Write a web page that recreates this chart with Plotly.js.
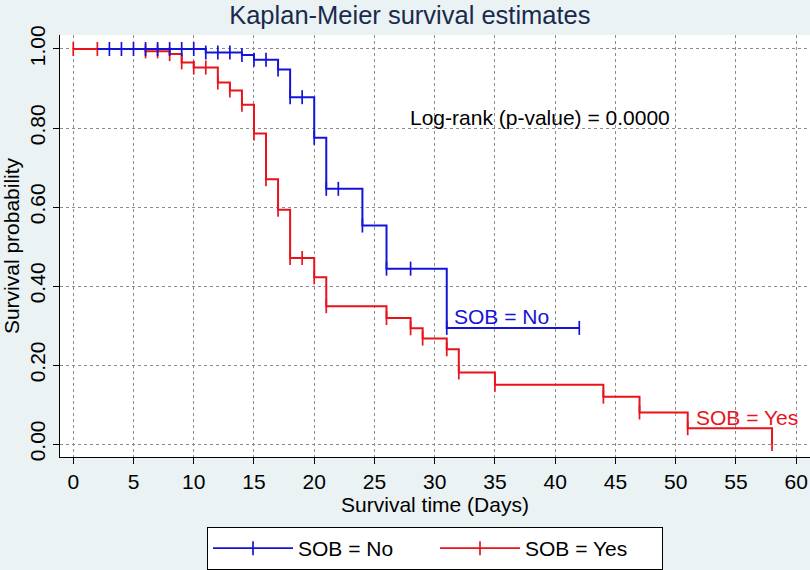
<!DOCTYPE html>
<html>
<head>
<meta charset="utf-8">
<script src="https://cdn.plot.ly/plotly-3.0.1.min.js"></script>
<style>
  html, body { margin: 0; padding: 0; background: #eaf2f3; }
  #km { width: 810px; height: 570px; }
</style>
</head>
<body>
<div id="km"></div>
<script>
// SOB = Yes (red) step points and censoring marks
let redTime = [0, 6, 8, 9, 10, 12, 13, 14, 15, 16, 17, 18, 20, 21, 26, 28, 29, 31, 32, 35, 44, 47, 51, 58];
let redSurv = [1.0, 0.994, 0.987, 0.966, 0.953, 0.915, 0.895, 0.859, 0.786, 0.670, 0.593, 0.471, 0.422, 0.349,
               0.319, 0.293, 0.267, 0.240, 0.181, 0.150, 0.120, 0.080, 0.040, 0.0];
let redCens = [0, 2, 6, 7, 8, 9, 10, 11, 12, 13, 14, 15, 16, 17, 18, 19, 20, 21, 26, 28, 29, 31, 32, 35, 44, 47, 51, 58];

// SOB = No (blue)
let blueTime = [2, 11, 14, 15, 17, 18, 20, 21, 24, 26, 31, 42];
let blueSurv = [1.0, 0.991, 0.985, 0.973, 0.948, 0.878, 0.775, 0.646, 0.553, 0.444, 0.294, 0.294];
let blueCens = [3, 4, 5, 6, 7, 8, 9, 10, 11, 12, 13, 14, 15, 16, 17, 18, 19, 20, 21, 22, 24, 26, 28, 31, 42];

let xTicks = [0, 5, 10, 15, 20, 25, 30, 35, 40, 45, 50, 55, 60];
let yTicks = [0, 0.2, 0.4, 0.6, 0.8, 1.0];

const blue = '#1414d8';
const red = '#e8141c';

// value of the step function at time t
const stepAt = (times, surv, t) => {
    let s = surv[0];
    for (let i = 0; i < times.length; i++) {
        if (times[i] <= t) s = surv[i];
    }
    return s;
};

const lineTrace = (times, surv, color) => ({
    x: times,
    y: surv,
    mode: 'lines',
    type: 'scatter',
    line: {color: color, width: 2, shape: 'hv'},
    showlegend: false,
    hoverinfo: 'skip'
});

const tickTrace = (times, surv, cens, color) => ({
    x: cens,
    y: cens.map((t) => stepAt(times, surv, t)),
    mode: 'markers',
    type: 'scatter',
    marker: {symbol: 'line-ns', size: 10, line: {color: color, width: 1.7}},
    showlegend: false,
    hoverinfo: 'skip'
});

const legendTrace = (name, color) => ({
    x: [null],
    y: [null],
    name: name,
    mode: 'lines+markers',
    type: 'scatter',
    line: {color: color, width: 1.7},
    marker: {symbol: 'line-ns', size: 10, line: {color: color, width: 1.7}}
});

let data = [
    lineTrace(redTime, redSurv, red),
    tickTrace(redTime, redSurv, redCens, red),
    lineTrace(blueTime, blueSurv, blue),
    tickTrace(blueTime, blueSurv, blueCens, blue),
    legendTrace('SOB = No', blue),
    legendTrace('SOB = Yes', red)
];

let layout = {
    width: 810,
    height: 570,
    paper_bgcolor: '#eaf2f3',
    plot_bgcolor: '#ffffff',
    margin: {l: 60, r: 0, t: 35, b: 112},
    font: {family: 'Liberation Sans, Arial, sans-serif', color: '#000000', size: 21},
    title: {
        text: 'Kaplan-Meier survival estimates',
        font: {size: 25.5, color: '#1a2a4e'},
        x: 0.506,
        xanchor: 'center',
        y: 0.973,
        yanchor: 'middle'
    },
    xaxis: {
        range: [-1.1, 61.15],
        tickvals: xTicks,
        ticktext: xTicks.map(String),
        ticks: 'outside',
        ticklen: 6,
        tickwidth: 1,
        tickcolor: '#000',
        showline: true,
        linecolor: '#000',
        linewidth: 1,
        showgrid: true,
        gridcolor: '#8c8c8c',
        griddash: 'dot',
        gridwidth: 1,
        zeroline: false,
        tickfont: {size: 21},
        title: {text: 'Survival time (Days)', font: {size: 21}, standoff: 0}
    },
    yaxis: {
        range: [-0.0328, 1.0354],
        tickvals: yTicks,
        ticktext: yTicks.map((v) => v.toFixed(2)),
        tickangle: -90,
        ticks: 'outside',
        ticklen: 6,
        tickwidth: 1,
        tickcolor: '#000',
        showline: true,
        linecolor: '#000',
        linewidth: 1,
        showgrid: true,
        gridcolor: '#8c8c8c',
        griddash: 'dot',
        gridwidth: 1,
        zeroline: false,
        tickfont: {size: 21},
        title: {text: 'Survival probability', font: {size: 21}, standoff: 2}
    },
    legend: {
        orientation: 'h',
        x: 0.5,
        xanchor: 'center',
        y: -0.165,
        yanchor: 'top',
        bgcolor: '#ffffff',
        bordercolor: '#000000',
        borderwidth: 1,
        font: {size: 21},
        entrywidth: 132,
        itemwidth: 80
    },
    annotations: [
        {x: 38.75, y: 0.826, xref: 'x', yref: 'y', text: 'Log-rank (p-value) = 0.0000',
         showarrow: false, font: {size: 21, color: '#000'}},
        {x: 31.4, y: 0.322, xref: 'x', yref: 'y', text: 'SOB = No', xanchor: 'left',
         showarrow: false, font: {size: 21, color: blue}},
        {x: 51.5, y: 0.068, xref: 'x', yref: 'y', text: 'SOB = Yes', xanchor: 'left',
         showarrow: false, font: {size: 21, color: red}}
    ]
};

Plotly.newPlot('km', data, layout, {displayModeBar: false, staticPlot: true});
</script>
</body>
</html>
